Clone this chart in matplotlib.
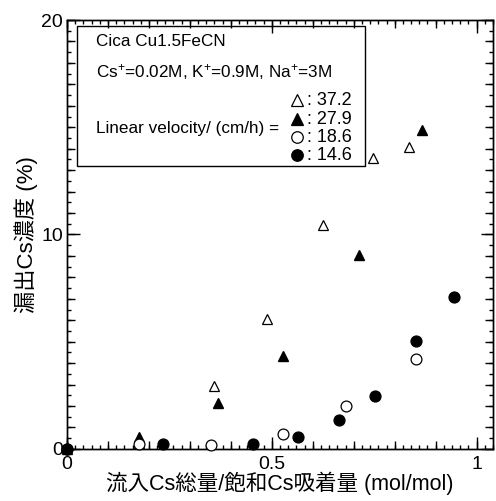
import numpy as np
import matplotlib
matplotlib.use('Agg')
import matplotlib.pyplot as plt
from matplotlib.patches import Rectangle
from matplotlib.ticker import MultipleLocator, NullLocator, NullFormatter

plt.rcParams['font.family'] = ['Liberation Sans', 'Noto Sans CJK JP']
plt.rcParams['mathtext.fontset'] = 'custom'
plt.rcParams['mathtext.rm'] = 'Liberation Sans'
plt.rcParams['mathtext.default'] = 'regular'

# 37.2 cm/h (open triangles)
x_372 = [0.176, 0.36, 0.489, 0.626, 0.748, 0.836]
y_372 = [0.28, 2.94, 6.06, 10.44, 13.57, 14.08]
# 27.9 cm/h (filled triangles)
x_279 = [0.0, 0.176, 0.369, 0.528, 0.714, 0.866]
y_279 = [0.0, 0.56, 2.14, 4.34, 9.04, 14.87]
# 18.6 cm/h (open circles)
x_186 = [0.0, 0.176, 0.352, 0.528, 0.68, 0.851]
y_186 = [0.0, 0.23, 0.19, 0.70, 2.0, 4.2]
# 14.6 cm/h (filled circles)
x_146 = [0.0, 0.235, 0.455, 0.565, 0.665, 0.753, 0.853, 0.944]
y_146 = [0.0, 0.23, 0.23, 0.56, 1.35, 2.47, 5.03, 7.09]

velocities = ['37.2', '27.9', '18.6', '14.6']

fig = plt.figure(figsize=(4.96, 5.01), dpi=100)
ax = fig.add_axes([0.135, 0.104, 0.859, 0.856])

ms = 7.8
ax.plot(x_372, y_372, '^', mfc='white', mec='black', ms=ms, mew=0.9, clip_on=False, zorder=5)
ax.plot(x_279, y_279, '^', mfc='black', mec='black', ms=ms, clip_on=False, zorder=5)
ax.plot(x_186, y_186, 'o', mfc='white', mec='black', ms=ms, mew=0.9, clip_on=False, zorder=5)
ax.plot(x_146, y_146, 'o', mfc='black', mec='black', ms=ms, clip_on=False, zorder=5)

ax.set_xlim(0, 1.04)
ax.set_ylim(0, 20)
ax.set_xticks([0, 0.5, 1])
ax.set_xticklabels(['0', '0.5', '1'])
ax.set_yticks([0, 10, 20])
ax.xaxis.set_minor_locator(MultipleLocator(0.02))
ax.yaxis.set_minor_locator(MultipleLocator(0.5))
ax.tick_params(which='both', direction='in', top=True, right=True, width=1, labelsize=14)
ax.tick_params(which='major', length=9)
ax.tick_params(axis='x', which='major', pad=5)
ax.tick_params(axis='y', which='major', pad=3)
ax.tick_params(which='minor', length=3)
for s in ax.spines.values():
    s.set_linewidth(1)

# medium ticks
for side in ['left', 'right']:
    sec = ax.secondary_yaxis(side)
    sec.set_yticks(np.arange(0, 21, 1))
    sec.yaxis.set_minor_locator(NullLocator())
    sec.yaxis.set_major_formatter(NullFormatter())
    sec.tick_params(direction='in', length=5.5, width=1)
    sec.spines[side].set_linewidth(1)
for side in ['bottom', 'top']:
    sec = ax.secondary_xaxis(side)
    sec.set_xticks(np.arange(0, 1.05, 0.1))
    sec.xaxis.set_minor_locator(NullLocator())
    sec.xaxis.set_major_formatter(NullFormatter())
    sec.tick_params(direction='in', length=5.5, width=1)
    sec.spines[side].set_linewidth(1)

ax.set_xlabel('流入Cs総量/飽和Cs吸着量 (mol/mol)', fontsize=15.5, labelpad=-1)
ax.set_ylabel('漏出Cs濃度 (%)', fontsize=16, labelpad=2)

# legend box
ax.add_patch(Rectangle((0.023, 0.66), 0.677, 0.326, transform=ax.transAxes,
                       fill=False, lw=1, ec='black', zorder=6))
ax.text(0.068, 0.951, 'Cica Cu1.5FeCN', transform=ax.transAxes, fontsize=12.3, va='center')
ax.text(0.068, 0.879, 'Cs$^{+}$=0.02M, K$^{+}$=0.9M, Na$^{+}$=3M', transform=ax.transAxes,
        fontsize=12.3, va='center')
ax.text(0.068, 0.748, 'Linear velocity/ (cm/h) =', transform=ax.transAxes, fontsize=12.3, va='center')
styles = [('^', 'white'), ('^', 'black'), ('o', 'white'), ('o', 'black')]
ys = [0.813, 0.769, 0.727, 0.685]
for (m, fc), yy, v in zip(styles, ys, velocities):
    ax.plot([0.54], [yy], m, mfc=fc, mec='black', ms=ms + 0.5, mew=0.9, transform=ax.transAxes, clip_on=False)
    ax.text(0.563, yy, ': ' + v, transform=ax.transAxes, fontsize=13, va='center')

fig.savefig('out.png', dpi=100)
